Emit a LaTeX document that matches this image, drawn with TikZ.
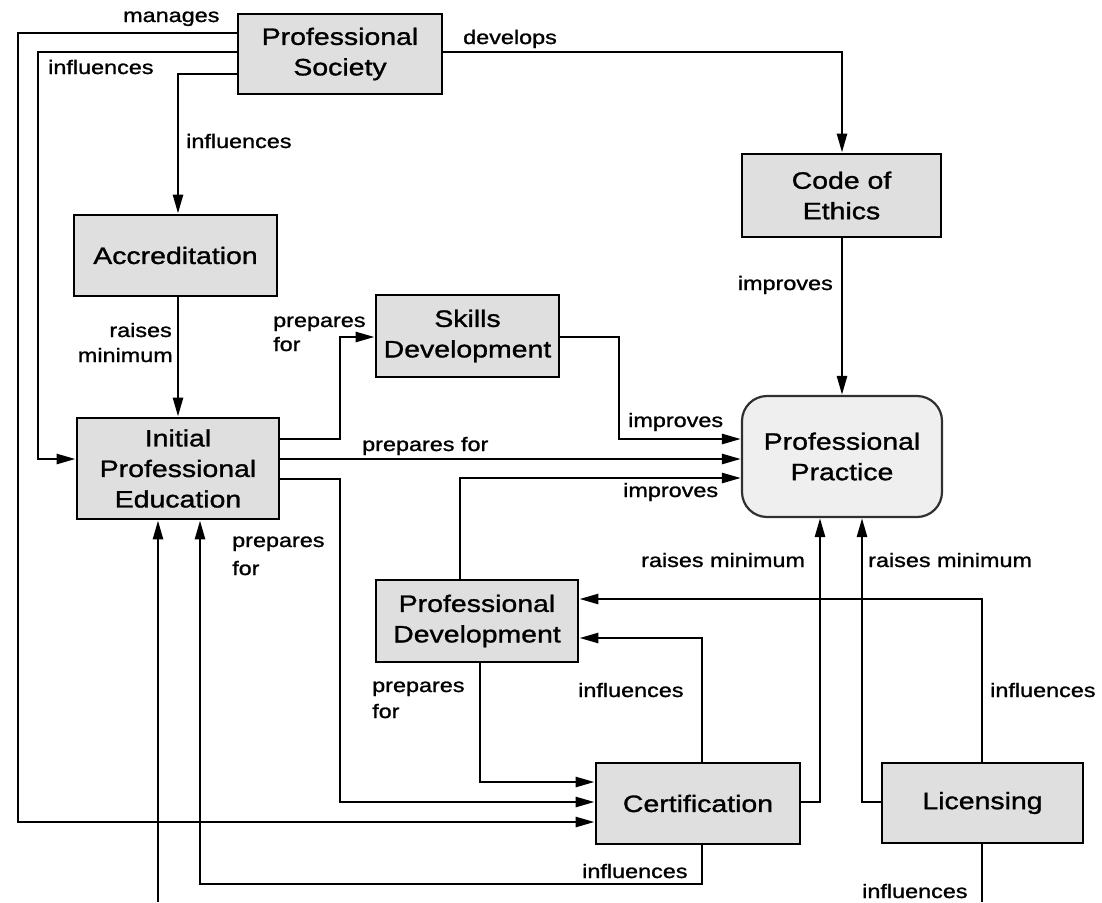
\documentclass[tikz,border=0pt]{standalone}
\usepackage{fontspec}
\setmainfont{Liberation Sans}[FakeStretch=1.2,FakeBold=1.2]
\usetikzlibrary{arrows.meta}
\definecolor{boxgray}{HTML}{DFDFDF}
\definecolor{ppgray}{HTML}{EFEFEF}
\definecolor{ppedge}{HTML}{303030}
\newcommand{\nodefnt}{\fontsize{23.7}{30.5}\selectfont}
\newcommand{\labfnt}{\fontsize{19.5}{25}\selectfont}
\begin{document}
\begin{tikzpicture}[x=1pt,y=-1pt,
  box/.style={draw=black, line width=2.9pt, fill=boxgray, inner sep=0pt, align=center, font=\nodefnt},
  pbox/.style={draw=ppedge, line width=2.2pt, fill=ppgray, rounded corners=25pt, inner sep=0pt, align=center, font=\nodefnt},
  conn/.style={line width=2.6pt, -{Triangle[length=19pt,width=10pt]}},
  plain/.style={line width=2.6pt},
  lab/.style={inner sep=0pt, font=\labfnt}]
\useasboundingbox (0,0) rectangle (1102,902);
% nodes
\node[box, minimum width=204pt, minimum height=80pt] (ps) at (340,54) {Professional\\Society};
\node[box, minimum width=199pt, minimum height=83pt] (coe) at (841.5,195.5) {Code of\\Ethics};
\node[box, minimum width=203pt, minimum height=81pt] (acc) at (175.5,255.5) {Accreditation};
\node[box, minimum width=183pt, minimum height=82pt] (sd) at (467.5,336) {Skills\\Development};
\node[box, minimum width=202pt, minimum height=101pt] (ipe) at (178,468.5) {Initial\\Professional\\Education};
\node[pbox, minimum width=200pt, minimum height=121pt] (pp) at (842,456.5) {Professional\\Practice};
\node[box, minimum width=202pt, minimum height=82pt] (pd) at (477,621) {Professional\\Development};
\node[box, minimum width=204pt, minimum height=81pt] (cert) at (698,803.5) {Certification};
\node[box, minimum width=201pt, minimum height=80pt] (lic) at (982.5,803) {Licensing};
\coordinate (bl) at (158,902);
\coordinate (br) at (982,902);
% connectors
\draw[conn] (ps.west |- 0,33) -- (18,33) -- (18,822) -- (cert.west |- 0,822);
\draw[conn] (ps.west |- 0,52) -- (38,52) -- (38,459) -- (ipe.west |- 0,459);
\draw[conn] (ps.west |- 0,74) -- (178,74) -- (178,0 |- acc.north);
\draw[conn] (ps.east |- 0,52) -- (842,52) -- (842,0 |- coe.north);
\draw[conn] (842,0 |- coe.south) -- (842,0 |- pp.north);
\draw[conn] (178,0 |- acc.south) -- (178,0 |- ipe.north);
\draw[conn] (ipe.east |- 0,439) -- (340,439) -- (340,337) -- (sd.west |- 0,337);
\draw[conn] (sd.east |- 0,337) -- (619,337) -- (619,439) -- (pp.west |- 0,439);
\draw[conn] (ipe.east |- 0,459) -- (pp.west |- 0,459);
\draw[conn] (460,0 |- pd.north) -- (460,478) -- (pp.west |- 0,478);
\draw[conn] (ipe.east |- 0,479) -- (340,479) -- (340,802) -- (cert.west |- 0,802);
\draw[conn] (480,0 |- pd.south) -- (480,782) -- (cert.west |- 0,782);
\draw[conn] (702,0 |- cert.north) -- (702,638) -- (pd.east |- 0,638);
\draw[conn] (cert.east |- 0,802) -- (820,802) -- (820,0 |- pp.south);
\draw[conn] (lic.west |- 0,802) -- (862,802) -- (862,0 |- pp.south);
\draw[conn] (982,0 |- lic.north) -- (982,599) -- (pd.east |- 0,599);
\draw[conn] (702,0 |- cert.south) -- (702,884) -- (200,884) -- (200,0 |- ipe.south);
\draw[plain] (982,0 |- lic.south) -- (br);
\draw[conn] (bl) -- (158,0 |- ipe.south);
% labels
\node[lab, anchor=base west] (t1) at (123,22) {manages};
\node[lab, anchor=base west] (t2) at (48,74) {influences};
\node[lab, anchor=base west] (t3) at (186,148) {influences};
\node[lab, anchor=base west] (t4) at (463,44) {develops};
\node[lab, anchor=base east] (t5) at (833,290) {improves};
\node[lab, anchor=base east] (t6a) at (172,337) {raises};
\node[lab, anchor=base east] (t6b) at (173,362) {minimum};
\node[lab, anchor=base west] (t7a) at (273,327) {prepares};
\node[lab, anchor=base west] (t7b) at (273,351) {for};
\node[lab, anchor=base west] (t8) at (628,427) {improves};
\node[lab, anchor=base west] (t9) at (362,451) {prepares for};
\node[lab, anchor=base west] (t10) at (623,497) {improves};
\node[lab, anchor=base west] (t11a) at (232,547) {prepares};
\node[lab, anchor=base west] (t11b) at (232,575) {for};
\node[lab, anchor=base west] (t12a) at (372,692) {prepares};
\node[lab, anchor=base west] (t12b) at (372,718) {for};
\node[lab, anchor=base west] (t13) at (578,697) {influences};
\node[lab, anchor=base west] (t14) at (641,567) {raises minimum};
\node[lab, anchor=base west] (t15) at (868,567) {raises minimum};
\node[lab, anchor=base west] (t16) at (990,697) {influences};
\node[lab, anchor=base west] (t17) at (582,878) {influences};
\node[lab, anchor=base west] (t18) at (862,898) {influences};
\end{tikzpicture}
\end{document}
